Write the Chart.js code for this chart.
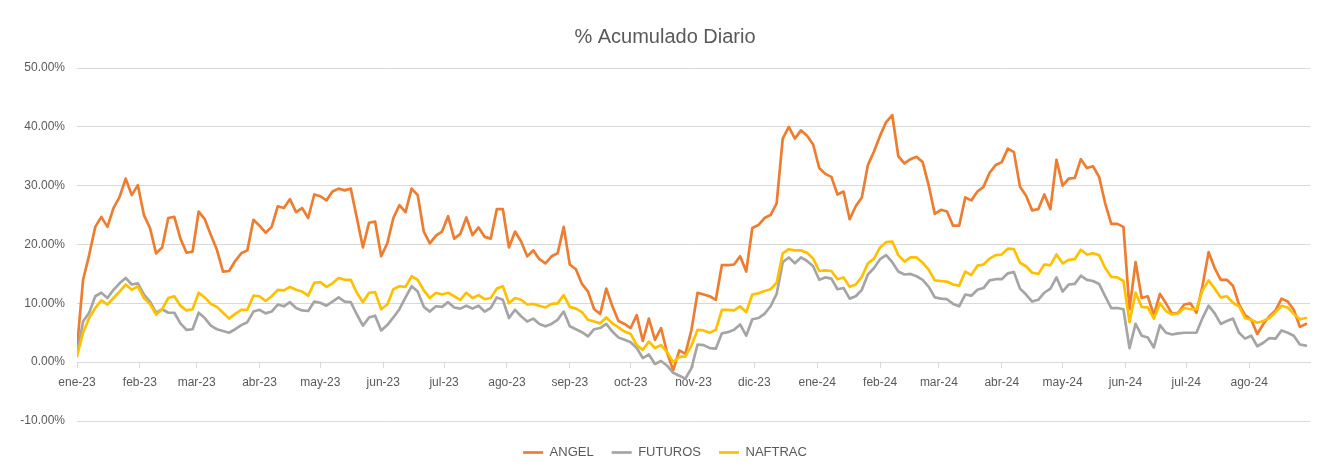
<!DOCTYPE html>
<html>
<head>
<meta charset="utf-8">
<script src="https://cdn.jsdelivr.net/npm/chart.js@4.4.1/dist/chart.umd.min.js"></script>
<style>
  html, body { margin: 0; padding: 0; background: #ffffff; }
</style>
</head>
<body>
<canvas id="lineChart" width="1320" height="469"></canvas>
<script>
// month ticks on the x axis (first day of each month)
var monthLabels = [
  "ene-23", "feb-23", "mar-23", "abr-23", "may-23", "jun-23", "jul-23",
  "ago-23", "sep-23", "oct-23", "nov-23", "dic-23", "ene-24", "feb-24",
  "mar-24", "abr-24", "may-24", "jun-24", "jul-24", "ago-24",
];

// daily % accumulated, one reading every 3 days from 1 ene 2023
var angel = [
  2.4, 14, 18.2, 23, 24.7, 23, 26.2, 28.1, 31.2, 28.4, 30.1, 25, 22.8, 18.5, 19.5, 24.5, 24.7,
  21, 18.6, 18.8, 25.6, 24.3, 21.6, 19.1, 15.4, 15.5, 17.2, 18.5, 19, 24.2, 23.2, 22, 23, 26.5,
  26.2, 27.7, 25.5, 26.2, 24.5, 28.5, 28.2, 27.5, 29, 29.5, 29.2, 29.5, 24.5, 19.5, 23.7, 23.9, 18,
  20.2, 24.5, 26.7, 25.5, 29.5, 28.4, 22.2, 20.2, 21.5, 22.2, 24.8, 21, 21.8, 24.6, 21.6, 22.9, 21.3,
  21, 26, 26, 19.5, 22.2, 20.5, 18, 19, 17.5, 16.8, 18, 18.5, 23, 16.6, 15.8, 13.3, 12,
  9, 8.2, 12.5, 9.5, 7, 6.5, 5.8, 8, 3.6, 7.4, 3.8, 5.8, 1.6, -1.4, 2, 1.4, 5.5,
  11.8, 11.5, 11.2, 10.6, 16.5, 16.5, 16.6, 18, 15.4, 22.8, 23.3, 24.5, 25, 27, 38, 40, 38,
  39.4, 38.5, 37, 33, 32, 31.5, 28.5, 29, 24.3, 26.5, 28, 33.5, 35.8, 38.5, 40.8, 42, 35,
  33.8, 34.5, 34.9, 34, 30, 25.2, 25.9, 25.6, 23.2, 23.2, 28, 27.5, 29, 29.8, 32.2, 33.5, 34, 36.3,
  35.7, 29.8, 28.3, 25.8, 26, 28.5, 26, 34.4, 30, 31.2, 31.3, 34.5, 33, 33.3, 31.5, 27, 23.5,
  23.5, 23, 9, 17, 10.9, 11.2, 8, 11.6, 10, 8.2, 8.4, 9.8, 10, 8.4, 13, 18.7, 16,
  14, 14, 13, 9.8, 8, 7.2, 4.8, 6.5, 7.8, 8.8, 10.8, 10.3, 8.9, 6, 6.5,
];

var futuros = [
  1.3, 6.9, 8.4, 11.2, 11.8, 10.9, 12.3, 13.4, 14.3, 13.2, 13.4, 11.5, 10.3, 8.4, 9, 8.4, 8.4,
  6.6, 5.5, 5.6, 8.4, 7.5, 6.2, 5.6, 5.3, 5, 5.6, 6.3, 6.8, 8.6, 8.9, 8.3, 8.6, 9.8,
  9.5, 10.2, 9.2, 8.8, 8.7, 10.3, 10.1, 9.6, 10.3, 11, 10.3, 10.2, 8.1, 6.2, 7.6, 7.9, 5.4,
  6.3, 7.6, 9, 11, 12.9, 12, 9.4, 8.6, 9.5, 9.4, 10.2, 9.3, 9.1, 9.6, 9.1, 9.6, 8.6,
  9.2, 11, 10.6, 7.5, 8.9, 7.8, 6.9, 7.4, 6.5, 6.1, 6.5, 7.2, 8.6, 6.1, 5.6, 5.1, 4.4,
  5.6, 5.8, 6.5, 5.2, 4.2, 3.8, 3.4, 2.4, 0.7, 1.3, -0.3, 0.2, -0.6, -1.8, -2.3, -2.8, -1,
  3, 2.9, 2.4, 2.3, 4.9, 5.1, 5.5, 6.4, 4.5, 7.3, 7.5, 8.2, 9.5, 11.6, 17, 17.8, 16.8,
  17.8, 17.2, 16.3, 14, 14.4, 14.2, 12.4, 12.6, 10.8, 11.2, 12.3, 14.9, 16, 17.5, 18.2, 17, 15.4,
  14.9, 15, 14.6, 14, 12.8, 11, 10.8, 10.7, 9.9, 9.5, 11.5, 11.3, 12.3, 12.6, 13.9, 14.1, 14.1, 15.1,
  15.3, 12.5, 11.5, 10.3, 10.6, 11.8, 12.5, 14.4, 12, 13.2, 13.3, 14.7, 14, 13.8, 13.3, 11.2, 9.2,
  9.2, 9, 2.4, 6.5, 4.5, 4.2, 2.5, 6.3, 5, 4.7, 4.9, 5, 5, 5, 7.5, 9.6, 8.3,
  6.5, 7, 7.4, 5, 4, 4.5, 2.7, 3.3, 4.1, 4, 5.4, 5, 4.5, 3, 2.8,
];

var naftrac = [
  1.0, 5, 7.5, 9.2, 10.5, 9.8, 10.9, 12, 13.2, 12.3, 12.9, 10.9, 9.9, 8.1, 9, 10.9, 11.2,
  9.6, 8.8, 9.0, 11.8, 11, 9.9, 9.4, 8.4, 7.4, 8.2, 8.9, 8.9, 11.3, 11.2, 10.4, 11.2, 12.3,
  12.2, 12.8, 12.3, 12, 11.3, 13.5, 13.6, 12.8, 13.4, 14.3, 14, 14, 11.8, 10.2, 11.8, 11.9, 9,
  9.8, 12.4, 12.9, 12.8, 14.6, 14, 12.2, 10.9, 11.8, 11.5, 11.8, 11.2, 10.6, 11.8, 10.9, 11.4, 10.7,
  10.9, 12.5, 12.9, 10, 10.9, 10.6, 9.8, 9.9, 9.6, 9.3, 9.9, 10, 11.4, 9.4, 9.1, 8.5, 7.2,
  6.9, 6.6, 7.6, 6.6, 5.9, 5.2, 4.8, 2.9, 2.1, 3.5, 2.4, 2.9, 1.7, 0, 0.9, 1, 2.8,
  5.5, 5.4, 5, 5.5, 8.9, 8.9, 8.8, 9.5, 8.5, 11.5, 11.7, 12.1, 12.4, 13.5, 18.5, 19.2, 19,
  19, 18.6, 17.6, 15.5, 15.6, 15.5, 14.1, 14.4, 12.8, 13.2, 14.5, 16.8, 17.6, 19.5, 20.4, 20.5, 18.2,
  17.1, 17.8, 17.8, 16.9, 15.7, 13.9, 13.8, 13.7, 13.2, 13, 15.4, 14.8, 16.4, 16.6, 17.6, 18.2, 18.3, 19.3,
  19.2, 16.9, 16.3, 15.2, 15, 16.6, 16.5, 18.3, 16.8, 17.4, 17.5, 19.1, 18.3, 18.5, 18.2, 16, 14.5,
  14.4, 13.8, 6.8, 11.8, 9.4, 9.3, 7.4, 10, 8.7, 8.1, 8.3, 9.2, 9, 9, 12.2, 13.9, 12.5,
  11, 11.2, 10.1, 9.5, 7.5, 7.2, 6.7, 7, 7.5, 8.5, 9.6, 9.3, 8.2, 7.3, 7.5,
];

var DAY = 86400000;
var start = Date.UTC(2023, 0, 1);
// day number of the first of each month
var monthDays = monthLabels.map(function (l, i) {
  return (Date.UTC(2023, i, 1) - start) / DAY;
});

function pts(arr) {
  return arr.map(function (v, i) {
    return { x: i * 3, y: v };
  });
}

var font = "'Liberation Sans', Arial, sans-serif";
var grey = "#595959";

var ctx = document.getElementById("lineChart").getContext("2d");
var myChart = new Chart(ctx, {
  type: "line",
  data: {
    datasets: [
      {
        label: "ANGEL",
        data: pts(angel),
        borderColor: "#ED7D31",
        backgroundColor: "#ED7D31",
        borderWidth: 2.7,
        order: 2,
      },
      {
        label: "FUTUROS",
        data: pts(futuros),
        borderColor: "#A5A5A5",
        backgroundColor: "#A5A5A5",
        borderWidth: 2.7,
        order: 1,
      },
      {
        label: "NAFTRAC",
        data: pts(naftrac),
        borderColor: "#FFC000",
        backgroundColor: "#FFC000",
        borderWidth: 2.7,
        order: 0,
      },
    ],
  },
  options: {
    responsive: false,
    animation: false,
    elements: {
      point: { radius: 0 },
      line: { tension: 0, borderJoinStyle: "round", borderCapStyle: "round" },
    },
    layout: { padding: { left: 20, right: 10, top: 0, bottom: 0 } },
    plugins: {
      title: {
        display: true,
        text: "% Acumulado Diario",
        color: grey,
        font: { family: font, size: 20, weight: "normal" },
        padding: { top: 25, bottom: 19 },
      },
      legend: {
        position: "bottom",
        labels: {
          usePointStyle: true,
          pointStyle: "line",
          pointStyleWidth: 20,
          color: grey,
          font: { family: font, size: 13 },
          padding: 18,
          sort: function (a, b) { return a.datasetIndex - b.datasetIndex; },
        },
      },
      tooltip: { enabled: false },
    },
    scales: {
      x: {
        type: "linear",
        position: { y: 0 },
        min: 0,
        max: 608,
        afterBuildTicks: function (scale) {
          scale.ticks = monthDays.map(function (d) { return { value: d }; });
        },
        ticks: {
          autoSkip: false,
          maxRotation: 0,
          padding: 8,
          color: grey,
          font: { family: font, size: 12 },
          callback: function (v, i) { return monthLabels[i]; },
        },
        grid: { drawOnChartArea: false, drawTicks: true, tickLength: 5, color: "#d9d9d9" },
        border: { display: true, color: "#d9d9d9" },
      },
      // empty strip between the plot and the legend
      gap: {
        type: "linear",
        position: "bottom",
        grid: { display: false },
        border: { display: false },
        ticks: { display: false },
        afterFit: function (scale) { scale.height = 7; },
      },
      y: {
        min: -10,
        max: 50,
        ticks: {
          stepSize: 10,
          padding: 12,
          color: grey,
          font: { family: font, size: 12 },
          callback: function (v) { return v.toFixed(2) + "%"; },
        },
        grid: { color: "#d9d9d9", drawTicks: false },
        border: { display: false },
        afterFit: function (scale) { scale.width = 57; },
      },
    },
  },
});
</script>
</body>
</html>
